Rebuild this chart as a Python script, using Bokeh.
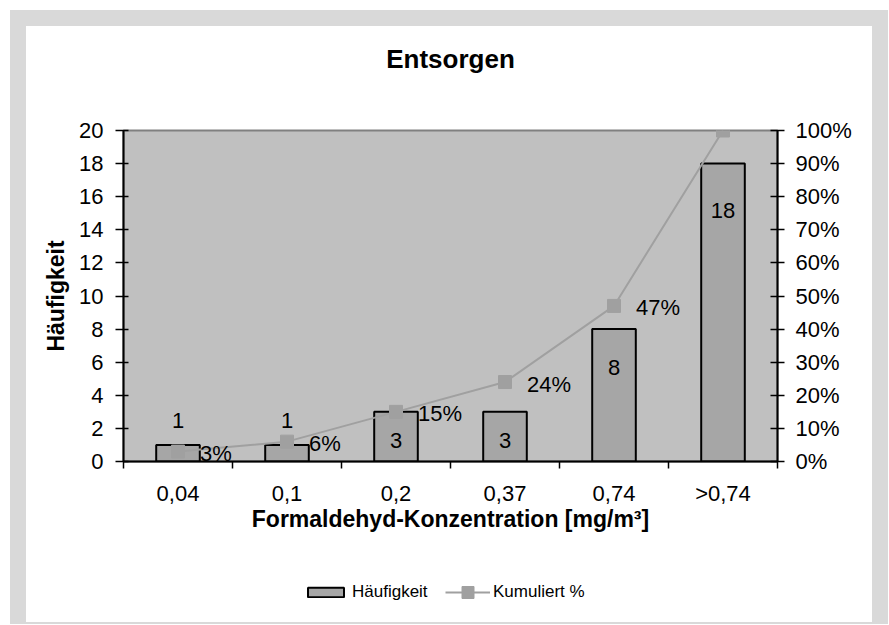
from bokeh.plotting import figure
from bokeh.models import (Range1d, LinearAxis, FixedTicker, PrintfTickFormatter,
                          Legend, LegendItem, ColumnDataSource)
from bokeh.layouts import column
from bokeh.embed import file_html
from bokeh.resources import INLINE
from bokeh.core.properties import value

# ---- data ----
categories = ["0,04", "0,1", "0,2", "0,37", "0,74", ">0,74"]
counts = [1, 1, 3, 3, 8, 18]
cumulative_pct = [3, 6, 15, 24, 47, 100]
left_ticks = [0, 2, 4, 6, 8, 10, 12, 14, 16, 18, 20]
right_ticks = [0, 10, 20, 30, 40, 50, 60, 70, 80, 90, 100]

# label placement (pixels) for the count labels
bar_label_dy = [-24, -24, 29, 29, 38, 47]

FONT = "Liberation Sans"
BAR_FILL = "#a6a6a6"
LINE_COL = "#a0a0a0"
W = 846

xs = [i + 0.5 for i in range(len(categories))]


def blank_fig(height):
    f = figure(width=W, height=height, output_backend="svg",
               toolbar_location=None, x_axis_location=None,
               y_axis_location=None, x_range=Range1d(0, 1),
               y_range=Range1d(0, 1), min_border=0,
               outline_line_color=None, background_fill_color="white",
               border_fill_color="white")
    f.xgrid.visible = False
    f.ygrid.visible = False
    return f


# ---------- title ----------
tf = blank_fig(80)
tf.title.text = "Entsorgen"
tf.title.align = "center"
tf.title.text_font = FONT
tf.title.text_font_size = "26px"
tf.title.text_font_style = "bold"
tf.title.text_color = "black"
tf.title.standoff = 31

# ---------- main chart ----------
p = figure(frame_width=654, frame_height=331,
           x_range=Range1d(0, len(categories)), y_range=Range1d(0, 20),
           output_backend="svg", toolbar_location=None,
           min_border_left=97, min_border_right=95,
           min_border_top=24, min_border_bottom=100,
           background_fill_color="#c0c0c0", border_fill_color="white",
           outline_line_color="#808080", outline_line_width=2)
p.title.visible = False
p.xgrid.visible = False
p.ygrid.visible = False

xa = p.xaxis[0]
ya = p.yaxis[0]

# left axis
ya.ticker = FixedTicker(ticks=left_ticks)
ya.axis_label = "Häufigkeit"
ya.axis_label_text_font = FONT
ya.axis_label_text_font_size = "23px"
ya.axis_label_text_font_style = "bold"
ya.axis_label_text_color = "black"
ya.axis_label_standoff = 7
ya.major_label_text_font = FONT
ya.major_label_text_font_size = "22px"
ya.major_label_text_color = "black"
ya.major_label_standoff = 12
ya.axis_line_color = "black"
ya.axis_line_width = 2
ya.major_tick_line_color = "black"
ya.major_tick_line_width = 1.5
ya.major_tick_in = 5
ya.major_tick_out = 8
ya.minor_tick_line_color = None

# right axis
p.extra_y_ranges = {"pct": Range1d(0, 100)}
ra = LinearAxis(y_range_name="pct", ticker=FixedTicker(ticks=right_ticks),
                formatter=PrintfTickFormatter(format="%d%%"))
ra.major_label_text_font = FONT
ra.major_label_text_font_size = "22px"
ra.major_label_text_color = "black"
ra.major_label_standoff = 11
ra.axis_line_color = "black"
ra.axis_line_width = 2
ra.major_tick_line_color = "black"
ra.major_tick_line_width = 1.5
ra.major_tick_in = 7
ra.major_tick_out = 7
ra.minor_tick_line_color = None
p.add_layout(ra, "right")

# x axis: labels at category centres, ticks at category boundaries
xa.ticker = FixedTicker(ticks=xs, minor_ticks=list(range(len(categories) + 1)))
xa.major_label_overrides = {x: c for x, c in zip(xs, categories)}
xa.major_label_text_font = FONT
xa.major_label_text_font_size = "22px"
xa.major_label_text_color = "black"
xa.major_label_standoff = 12
xa.major_tick_in = 0
xa.major_tick_out = 0
xa.minor_tick_in = 0
xa.minor_tick_out = 7
xa.minor_tick_line_color = "black"
xa.minor_tick_line_width = 1.5
xa.axis_line_color = "black"
xa.axis_line_width = 2
xa.axis_label = "Formaldehyd-Konzentration [mg/m³]"
xa.axis_label_text_font = FONT
xa.axis_label_text_font_size = "23px"
xa.axis_label_text_font_style = "bold"
xa.axis_label_text_color = "black"
xa.axis_label_standoff = -3

# bars
src = ColumnDataSource(dict(x=xs, top=counts, lab=[str(c) for c in counts],
                            dy=bar_label_dy))
p.vbar(x="x", top="top", width=0.4, source=src,
       fill_color=BAR_FILL, line_color="black", line_width=2)
p.text(x="x", y="top", text="lab", y_offset="dy", source=src,
       text_align="center", text_baseline="middle",
       text_font=value(FONT), text_font_size="22px", text_color="black")

# cumulative line
csrc = ColumnDataSource(dict(x=xs, y=cumulative_pct))
p.line(x="x", y="y", source=csrc, y_range_name="pct",
       line_color=LINE_COL, line_width=2)
p.scatter(x="x", y="y", source=csrc, y_range_name="pct",
          marker="square", size=13, fill_color=LINE_COL, line_color=LINE_COL)
lsrc = ColumnDataSource(dict(x=xs[:-1], y=cumulative_pct[:-1],
                             lab=[f"{v}%" for v in cumulative_pct[:-1]]))
p.text(x="x", y="y", text="lab", source=lsrc, y_range_name="pct",
       x_offset=22, y_offset=2, text_align="left", text_baseline="middle",
       text_font=value(FONT), text_font_size="22px", text_color="black")

# ---------- legend strip (legend-only renderers, nothing plotted) ----------
lf = blank_fig(61)
nan = float("nan")
empty = ColumnDataSource(dict(x=[nan], top=[nan], y=[nan]))
lbar = lf.vbar(x="x", top="top", width=0.4, source=empty,
               fill_color=BAR_FILL, line_color="black", line_width=2)
lline = lf.line(x="x", y="y", source=empty, line_color=LINE_COL, line_width=2)
lmark = lf.scatter(x="x", y="y", source=empty, marker="square", size=13,
                   fill_color=LINE_COL, line_color=LINE_COL)

legend_style = dict(orientation="horizontal", border_line_color=None,
                    background_fill_alpha=0, padding=0, margin=0,
                    glyph_width=45, label_text_font=FONT,
                    label_text_font_size="17px", label_text_color="black")
leg_bar = Legend(items=[LegendItem(label="Häufigkeit", renderers=[lbar])],
                 location=(180, 20), glyph_height=12, label_standoff=4,
                 **legend_style)
leg_line = Legend(items=[LegendItem(label="Kumuliert %", renderers=[lline, lmark])],
                  location=(322, 15), glyph_height=30, label_standoff=3,
                  **legend_style)
lf.add_layout(leg_bar)
lf.add_layout(leg_line)

inner = column(tf, p, lf, spacing=0, styles={"background-color": "white"})
layout = column(inner, margin=(10, 0, 0, 10),
                styles={"background-color": "#d9d9d9",
                        "padding": "16px 16px 2px 16px"})

open("out.html", "w").write(file_html(layout, INLINE))
